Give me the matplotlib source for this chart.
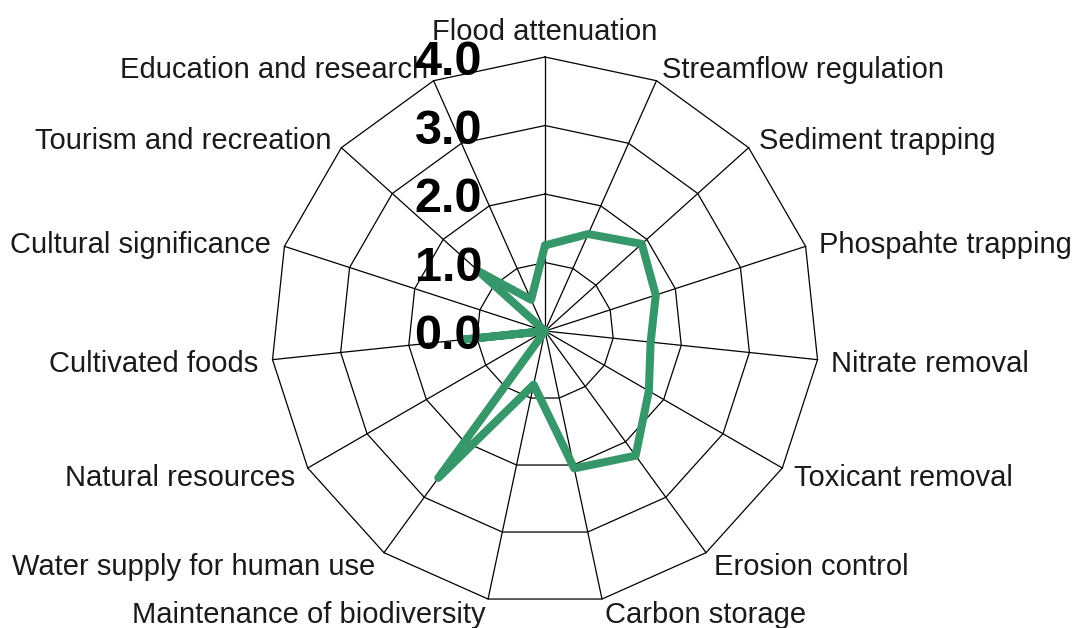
import numpy as np
import matplotlib
matplotlib.use('Agg')
import matplotlib.pyplot as plt

# categories go clockwise, starting at the top
categories = ['Flood attenuation', 'Streamflow regulation', 'Sediment trapping',
              'Phospahte trapping', 'Nitrate removal', 'Toxicant removal',
              'Erosion control', 'Carbon storage', 'Maintenance of biodiversity',
              'Water supply for human use', 'Natural resources', 'Cultivated foods',
              'Cultural significance', 'Tourism and recreation', 'Education and research']
values = [1.25, 1.55, 1.9, 1.7, 1.55, 1.75, 2.25, 2.05, 0.8, 2.65, 0.0, 1.2, 0.0, 1.3, 0.5]
ticks = [0, 1, 2, 3, 4]
tick_labels = ['0.0', '1.0', '2.0', '3.0', '4.0']

plt.rcParams['font.family'] = ['Liberation Sans', 'DejaVu Sans']


def plot_radar():
    n = len(categories)
    theta = np.arange(n) * 2 * np.pi / n
    closed = np.append(theta, theta[0])

    fig = plt.figure(figsize=(10.75, 6.28), dpi=100)
    ax = fig.add_axes([0.2521, 0.0366, 0.5098, 0.8726], projection='polar')
    ax.set_theta_zero_location('N')
    ax.set_theta_direction(-1)
    ax.set_ylim(0, ticks[-1])
    ax.grid(False)
    ax.set_xticks([])
    ax.set_yticks([])
    ax.spines['polar'].set_visible(False)
    ax.patch.set_visible(False)

    # polygon web
    for t in ticks[1:]:
        ax.plot(closed, [t] * (n + 1), color='black', lw=0.9, zorder=1, clip_on=False)
    for th in theta:
        ax.plot([th, th], [0, ticks[-1]], color='black', lw=0.9, zorder=1, clip_on=False)

    # series
    ax.plot(closed, values + [values[0]], color='#36986a', lw=5.8,
            solid_joinstyle='round', solid_capstyle='round', zorder=3, clip_on=False)

    # category labels
    for th, lab in zip(theta, categories):
        dx, dy = np.sin(th), np.cos(th)
        va = 'center'
        if abs(dx) < 0.01:
            ha, va = 'center', 'bottom'
        elif dx > 0:
            ha = 'left'
        else:
            ha = 'right'
        ax.annotate(lab, xy=(th, ticks[-1]), xytext=(14 * dx, 14 * dy - 2.5),
                    textcoords='offset pixels', ha=ha, va=va,
                    fontsize=21, color='#1a1a1a', annotation_clip=False)

    # value axis labels
    for t, lab in zip(ticks, tick_labels):
        ax.annotate(lab, xy=(0, t), xytext=(-63, -18), textcoords='offset pixels',
                    ha='right', va='baseline', fontsize=35, fontweight='bold',
                    color='black', zorder=5, annotation_clip=False)

    fig.savefig('out.png', dpi=100)


if __name__ == "__main__":
    plot_radar()
